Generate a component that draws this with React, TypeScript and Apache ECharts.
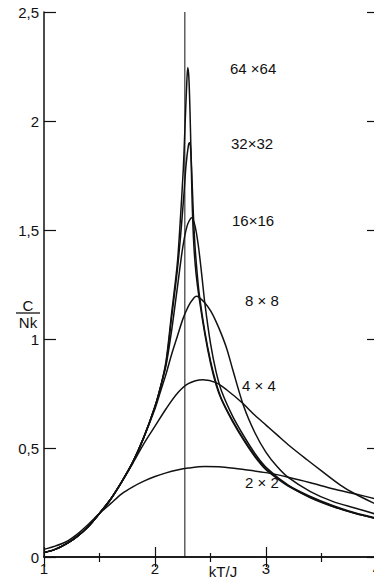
import React, { useEffect, useRef } from "react";
import * as echarts from "echarts";

// Temperature kT/J and specific heat C/Nk
const t2 = [1.0, 1.1, 1.2, 1.3, 1.4, 1.5, 1.6, 1.7, 1.8, 1.9, 2.0, 2.1, 2.2, 2.3, 2.45, 2.6, 2.8, 3.0, 3.2, 3.4, 3.6, 3.8, 4.0];
const c2 = [0.035, 0.05, 0.07, 0.105, 0.15, 0.2, 0.245, 0.29, 0.322, 0.348, 0.369, 0.386, 0.399, 0.408, 0.415, 0.413, 0.401, 0.387, 0.366, 0.341, 0.313, 0.29, 0.265];

const t4 = [1.0, 1.1, 1.2, 1.3, 1.4, 1.5, 1.6, 1.7, 1.8, 1.9, 2.0, 2.1, 2.2, 2.3, 2.43, 2.55, 2.65, 2.78, 2.9, 3.0, 3.1, 3.2, 3.37, 3.5, 3.67, 3.8, 4.0];
const c4 = [0.02, 0.035, 0.06, 0.095, 0.14, 0.2, 0.265, 0.345, 0.43, 0.52, 0.6, 0.68, 0.75, 0.795, 0.813, 0.8, 0.765, 0.71, 0.65, 0.605, 0.56, 0.515, 0.446, 0.395, 0.33, 0.29, 0.24];

const t8 = [1.0, 1.1, 1.2, 1.3, 1.4, 1.5, 1.6, 1.7, 1.8, 1.9, 2.0, 2.05, 2.1, 2.15, 2.2, 2.25, 2.3, 2.35, 2.375, 2.4, 2.45, 2.5, 2.55, 2.6, 2.65, 2.7, 2.8, 2.9, 3.0, 3.1, 3.2, 3.4, 3.6, 3.8, 4.0];
const c8 = [0.02, 0.035, 0.06, 0.095, 0.14, 0.2, 0.265, 0.345, 0.435, 0.55, 0.68, 0.76, 0.84, 0.93, 1.01, 1.09, 1.15, 1.188, 1.196, 1.19, 1.165, 1.13, 1.08, 1.02, 0.95, 0.86, 0.69, 0.57, 0.48, 0.415, 0.365, 0.3, 0.255, 0.225, 0.195];

const t16 = [1.0, 1.1, 1.2, 1.3, 1.4, 1.5, 1.6, 1.7, 1.8, 1.9, 2.0, 2.05, 2.1, 2.15, 2.2, 2.25, 2.29, 2.33, 2.36, 2.39, 2.42, 2.45, 2.5, 2.55, 2.6, 2.7, 2.8, 2.9, 3.0, 3.2, 3.4, 3.6, 3.8, 4.0];
const c16 = [0.02, 0.035, 0.06, 0.095, 0.14, 0.2, 0.265, 0.345, 0.435, 0.55, 0.69, 0.78, 0.88, 1.04, 1.23, 1.42, 1.52, 1.556, 1.52, 1.43, 1.3, 1.16, 0.98, 0.85, 0.76, 0.645, 0.555, 0.475, 0.412, 0.33, 0.278, 0.236, 0.203, 0.178];

const t32 = [1.0, 1.1, 1.2, 1.3, 1.4, 1.5, 1.6, 1.7, 1.8, 1.9, 2.0, 2.05, 2.1, 2.15, 2.2, 2.23, 2.26, 2.28, 2.3, 2.31, 2.32, 2.33, 2.345, 2.36, 2.38, 2.4, 2.45, 2.5, 2.55, 2.6, 2.7, 2.8, 2.9, 3.0, 3.2, 3.4, 3.6, 3.8, 4.0];
const c32 = [0.02, 0.035, 0.06, 0.095, 0.14, 0.2, 0.265, 0.345, 0.435, 0.55, 0.69, 0.78, 0.89, 1.1, 1.31, 1.47, 1.66, 1.8, 1.885, 1.9, 1.88, 1.78, 1.58, 1.43, 1.3, 1.2, 1.03, 0.9, 0.8, 0.725, 0.625, 0.54, 0.465, 0.405, 0.327, 0.274, 0.233, 0.201, 0.176];

const t64 = [1.0, 1.1, 1.2, 1.3, 1.4, 1.5, 1.6, 1.7, 1.8, 1.9, 2.0, 2.05, 2.1, 2.15, 2.2, 2.225, 2.255, 2.27, 2.285, 2.295, 2.305, 2.315, 2.325, 2.335, 2.35, 2.37, 2.4, 2.45, 2.5, 2.55, 2.6, 2.7, 2.8, 2.9, 3.0, 3.1, 3.2, 3.4, 3.6, 3.8, 4.0];
const c64 = [0.02, 0.035, 0.06, 0.095, 0.14, 0.2, 0.265, 0.345, 0.435, 0.55, 0.69, 0.78, 0.9, 1.12, 1.34, 1.52, 1.78, 1.97, 2.16, 2.245, 2.2, 2.05, 1.84, 1.62, 1.43, 1.3, 1.18, 1.02, 0.89, 0.79, 0.72, 0.62, 0.535, 0.46, 0.4, 0.36, 0.325, 0.272, 0.232, 0.2, 0.175];

const tcLine = [2.269, 2.269];
const tcC = [0, 2.5];

const xTicks = [1, 2, 3, 4];
const yTicks = ["0", "0,5", "1", "1,5", "2", "2,5"];

const sizeLabels = ["64 ×64", "32×32", "16×16", "8 × 8", "4 × 4", "2 × 2"];

const zip = (a: number[], b: number[]) => a.map((v, i) => [v, b[i]]);

export default function App() {
  const ref = useRef<HTMLDivElement>(null);
  useEffect(() => {
    if (!ref.current) return;
    const chart = echarts.init(ref.current, null, { renderer: "svg" });
    const font = "Liberation Sans";
    const ink = "#111";
    const curve = (name: string, t: number[], c: number[]) => ({
      name,
      type: "line",
      data: zip(t, c),
      smooth: 0.3,
      symbol: "none",
      lineStyle: { color: ink, width: 1.5 },
      z: 3,
    });
    const labelPos: [number, number][] = [
      [230, 68],
      [231, 143],
      [232, 220],
      [245, 300],
      [242, 385],
      [245, 482],
    ];
    chart.setOption({
      animation: false,
      backgroundColor: "#fff",
      grid: { left: 44, right: -3, top: 12, bottom: 21, containLabel: false, outerBoundsMode: "none" },
      xAxis: [
        {
          type: "value",
          position: "bottom",
          min: 1,
          max: 4,
          interval: 1,
          axisLine: { show: true, lineStyle: { color: ink, width: 1.5 } },
          axisTick: { show: true, inside: true, length: 10, lineStyle: { color: ink, width: 1.2 } },
          minorTick: { show: true, splitNumber: 2, length: 4, lineStyle: { color: ink, width: 1.2 } },
          splitLine: { show: false },
          axisLabel: {
            color: ink,
            fontFamily: font,
            fontSize: 15,
            margin: 4,
            formatter: (v: number) => (xTicks.includes(v) ? String(v) : ""),
          },
        },
        {
          type: "value",
          position: "top",
          min: 1,
          max: 4,
          interval: 1,
          axisLine: { show: true, lineStyle: { color: ink, width: 1.5 } },
          axisTick: { show: true, inside: true, length: 10, lineStyle: { color: ink, width: 1.2 } },
          minorTick: { show: true, splitNumber: 2, length: 5, lineStyle: { color: ink, width: 1.2 } },
          splitLine: { show: false },
          axisLabel: { show: false },
        },
      ],
      yAxis: [
        {
          type: "value",
          position: "left",
          min: 0,
          max: 2.5,
          interval: 0.5,
          axisLine: { show: true, lineStyle: { color: ink, width: 1.5 } },
          axisTick: { show: true, inside: true, length: 12, lineStyle: { color: ink, width: 1.2 } },
          splitLine: { show: false },
          axisLabel: {
            color: ink,
            fontFamily: font,
            fontSize: 15,
            margin: 5,
            formatter: (v: number) => yTicks[Math.round(v * 2)] ?? "",
          },
        },
        {
          type: "value",
          position: "right",
          min: 0,
          max: 2.5,
          interval: 0.5,
          axisLine: { show: true, lineStyle: { color: ink, width: 1.5 } },
          axisTick: { show: true, inside: true, length: 10, lineStyle: { color: ink, width: 1.2 } },
          splitLine: { show: false },
          axisLabel: { show: false },
        },
      ],
      series: [
        {
          name: "Tc",
          type: "line",
          data: zip(tcLine, tcC),
          symbol: "none",
          lineStyle: { color: ink, width: 1 },
          z: 2,
        },
        curve("2×2", t2, c2),
        curve("4×4", t4, c4),
        curve("8×8", t8, c8),
        curve("16×16", t16, c16),
        curve("32×32", t32, c32),
        curve("64×64", t64, c64),
      ],
      graphic: [
        ...sizeLabels.map((s, i) => ({
          type: "text",
          x: labelPos[i][0],
          y: labelPos[i][1],
          style: {
            text: s,
            font: `15px "${font}"`,
            fill: ink,
            textVerticalAlign: "middle",
          },
        })),
        {
          type: "text",
          x: 223,
          y: 571,
          style: { text: "kT/J", font: `15px "${font}"`, fill: ink, textAlign: "center", textVerticalAlign: "middle" },
        },
        {
          type: "text",
          x: 28,
          y: 305,
          style: { text: "C", font: `15px "${font}"`, fill: ink, textAlign: "center", textVerticalAlign: "middle" },
        },
        {
          type: "line",
          shape: { x1: 16, y1: 313, x2: 40, y2: 313 },
          style: { stroke: ink, lineWidth: 1.3 },
        },
        {
          type: "text",
          x: 28,
          y: 322,
          style: { text: "Nk", font: `15px "${font}"`, fill: ink, textAlign: "center", textVerticalAlign: "middle" },
        },
      ],
    });
    return () => chart.dispose();
  }, []);
  return (
    <div
      ref={ref}
      style={{ position: "fixed", left: 0, top: 0, width: 374, height: 578, background: "#fff" }}
    />
  );
}
